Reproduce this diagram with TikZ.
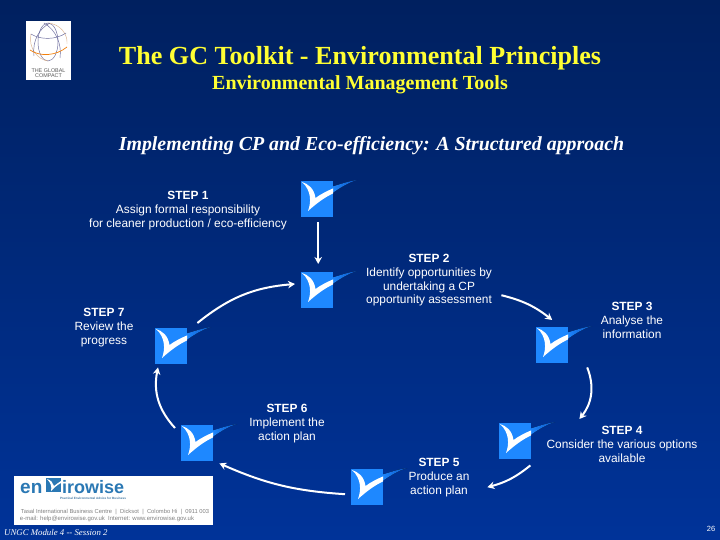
\documentclass[tikz,border=0pt]{standalone}
\usepackage{fontspec}
\setmainfont{Liberation Sans}
\newfontfamily\serifx{Liberation Serif}
\usetikzlibrary{arrows.meta,calc}
\definecolor{bgtop}{HTML}{00205F}
\definecolor{bgbot}{HTML}{003399}
\definecolor{tickblue}{HTML}{1E88FF}
\definecolor{titley}{HTML}{FFFF33}
\definecolor{envblue}{HTML}{2A78B4}
\tikzset{
  arr/.style={draw=white,line width=2pt,-{Stealth[length=7pt,width=7.5pt]}},
  steptext/.style={text=white,font=\fontsize{11.9}{13.8}\selectfont,align=center,inner sep=0pt,anchor=north},
  tickbox/.style={fill=tickblue,minimum width=32pt,minimum height=36pt,inner sep=0pt,anchor=north west,draw=none},
}
% #1 node name, #2 x, #3 y
\newcommand{\ticklogo}[3]{%
  \begin{scope}[shift={(#2,#3)}]
    \fill[left color=tickblue,right color=bgbot!60!tickblue] (30,6) .. controls (40,3) and (48,0) .. (56,-1) .. controls (47,2) and (40,6) .. (30,13) -- cycle;
  \end{scope}
  \node[tickbox] (#1) at (#2,#3) {};
  \begin{scope}[shift={(#2,#3)}]
    \clip (0,0) rectangle (32,36);
    \fill[white] (1,1) .. controls (7,3) and (13,7) .. (14.5,17)
      .. controls (20,13) and (26,10) .. (33,7) -- (33,12)
      .. controls (24,16) and (16,22) .. (7,30)
      .. controls (10,22) and (11,10) .. (1,1) -- cycle;
  \end{scope}
}
\begin{document}
\begin{tikzpicture}[x=1pt,y=-1pt]
\useasboundingbox (0,0) rectangle (720,540);
\fill[top color=bgtop,bottom color=bgbot] (0,0) rectangle (720,540);

% Global Compact logo
\node[fill=white,minimum width=45pt,minimum height=59pt,inner sep=0pt,anchor=north west] (gclogo) at (26,21) {};
\begin{scope}[line width=0.45pt]
  \draw[gray!80!blue] (48,42) ellipse [x radius=10,y radius=19];
  \draw[orange!50!gray!60] (31,34) .. controls (28,48) and (38,60) .. (48,61);
  \draw[orange!50!gray!60] (48,23) .. controls (60,24) and (68,34) .. (67,44);
  \draw[gray!80!blue] (34,56) .. controls (32,40) and (40,28) .. (50,23);
  \draw[gray!80!blue] (44,23) .. controls (56,30) and (62,44) .. (60,58);
  \draw[orange!80!brown,line width=0.7pt] (30,50) .. controls (40,57) and (56,56) .. (67,47);
  \draw[gray!80!blue] (31,34) .. controls (40,40) and (56,40) .. (66,33);
\end{scope}
\node[text=gray!70!black,font=\fontsize{5.4}{5.2}\selectfont,align=center,inner sep=0pt] (gctext) at (48.5,73.5) {THE GLOBAL\\COMPACT};

% Titles
\node[text=titley,font=\serifx\bfseries\fontsize{26.1}{28}\selectfont,inner sep=0pt] (title) at (360,58) {The GC Toolkit - Environmental Principles};
\node[text=titley,font=\serifx\bfseries\fontsize{20}{22}\selectfont,inner sep=0pt] (subtitle) at (360,85) {Environmental Management Tools};
\node[text=white,font=\serifx\bfseries\itshape\fontsize{19.9}{22}\selectfont,inner sep=0pt] (heading) at (371.5,146) {Implementing CP and Eco-efficiency: A Structured approach};

% Tick logos
\ticklogo{s1}{301}{181}
\ticklogo{s2}{301}{272}
\ticklogo{s3}{536}{327}
\ticklogo{s4}{499}{423}
\ticklogo{s5}{351}{469}
\ticklogo{s6}{181}{425}
\ticklogo{s7}{155}{328}

% Step texts
\node[steptext] (t1) at (188,191) {\textbf{STEP 1}\\Assign formal responsibility\\for cleaner production / eco-efficiency};
\node[steptext] (t2) at (429,254) {\textbf{STEP 2}\\Identify opportunities by\\undertaking a CP\\opportunity assessment};
\node[steptext] (t3) at (632,302) {\textbf{STEP 3}\\Analyse the\\information};
\node[steptext] (t4) at (622,426) {\textbf{STEP 4}\\Consider the various options\\available};
\node[steptext] (t5) at (439,458) {\textbf{STEP 5}\\Produce an\\action plan};
\node[steptext] (t6) at (287,404) {\textbf{STEP 6}\\Implement the\\action plan};
\node[steptext] (t7) at (104,308) {\textbf{STEP 7}\\Review the\\progress};

% Connectors
\draw[arr] ($(s1.south)+(1,5)$) -- ($(s2.north)+(1,-8)$);
\draw[arr] ($(s7.north east)+(10,-5)$) to[bend left=17] ($(s2.north west)+(-6,12)$);
\draw[arr] ($(s2.east)+(168,5)$) to[bend left=12] ($(s3.north)+(0,-7)$);
\draw[arr] ($(s3.south)+(35,4)$) to[bend left=30] ($(s4.north east)+(48,-4)$);
\draw[arr] ($(s4.south east)+(-1,6)$) to[bend left=12] ($(s5.east)+(104,0)$);
\draw[arr] ($(s5.west)+(-6,7)$) to[bend left=10] ($(s6.south east)+(6,2)$);
\draw[arr] ($(s6.north west)+(-6,3)$) to[bend left=27] ($(s7.south west)+(3,3)$);

% Envirowise logo
\node[fill=white,minimum width=199pt,minimum height=49pt,inner sep=0pt,anchor=north west] (envlogo) at (14,476) {};
\node[text=envblue,font=\bfseries\fontsize{19}{21}\selectfont,inner sep=0pt,anchor=base west] (envA) at (20,493) {en};
\node[fill=envblue,minimum width=15pt,minimum height=14pt,inner sep=0pt,anchor=north west] (envB) at (46,478) {};
\fill[white] (47,479) .. controls (51,480) and (53,483) .. (54,486) .. controls (57,484) and (59,482) .. (61,481) -- (61,483) .. controls (57,485) and (54,488) .. (51,491) .. controls (52,487) and (51,483) .. (47,479) -- cycle;
\node[text=envblue,font=\bfseries\fontsize{18}{20}\selectfont,inner sep=0pt,anchor=base west] (envC) at (62,493) {irowise};
\node[text=envblue!70!gray,font=\bfseries\fontsize{3.1}{4}\selectfont,inner sep=0pt,anchor=base] (envD) at (93,499) {Practical Environmental Advice for Business};
\node[text=gray,font=\fontsize{5.8}{7}\selectfont,inner sep=0pt,anchor=base] (envE) at (115,513) {Tasal International Business Centre \ | \ Dicksot \ | \ Colombo Hi \ | \ 0911 003};
\node[text=gray,font=\fontsize{6}{7}\selectfont,inner sep=0pt,anchor=base] (envF) at (107,520.5) {e-mail: help@envirowise.gov.uk \ Internet: www.envirowise.gov.uk};

% Footer
\node[text=white,font=\serifx\itshape\fontsize{8.8}{9}\selectfont,inner sep=0pt,anchor=base west] (footer) at (4,535) {UNGC Module 4 -- Session 2};
\node[text=white,font=\fontsize{7.5}{8}\selectfont,inner sep=0pt] (pageno) at (711,529) {26};
\end{tikzpicture}
\end{document}
